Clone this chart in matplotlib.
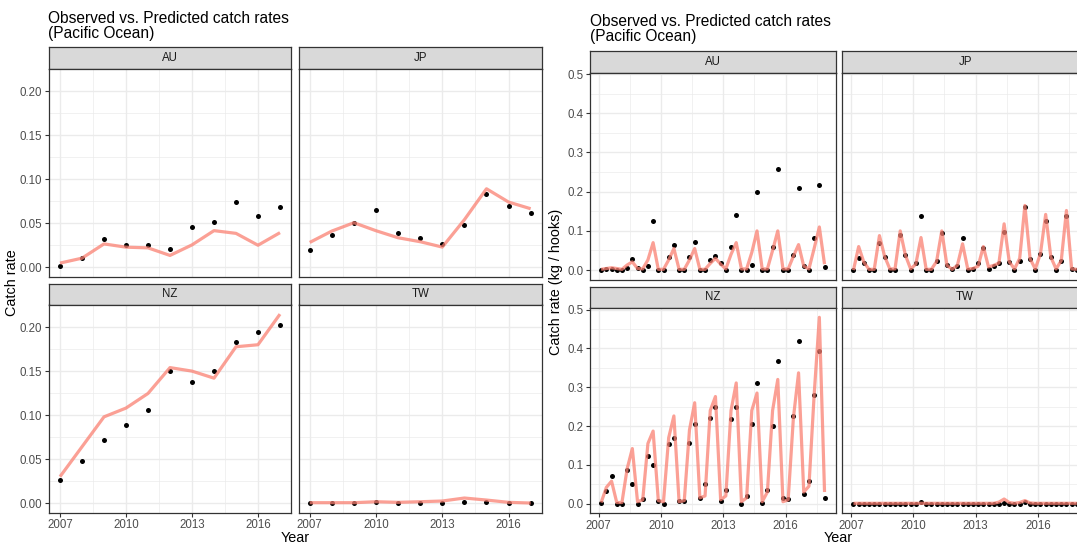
import numpy as np
import matplotlib
matplotlib.use("Agg")
import matplotlib.pyplot as plt

plt.rcParams['font.family'] = ['Liberation Sans', 'DejaVu Sans']

W, H = 1077, 549

# ---- annual series (left figure) ----
years = np.arange(2007, 2018)
au_obs = [0.0015, 0.0098, 0.0316, 0.0256, 0.0256, 0.0207, 0.0459, 0.0515, 0.0737, 0.0575, 0.0684]
au_pred = [0.0045, 0.0101, 0.0263, 0.0226, 0.0218, 0.0132, 0.0252, 0.0414, 0.0383, 0.0248, 0.0391]
jp_obs = [0.0197, 0.0364, 0.0500, 0.0652, 0.0386, 0.0326, 0.0261, 0.0477, 0.0833, 0.0697, 0.0610]
jp_pred = [0.0280, 0.0409, 0.0504, 0.0413, 0.0333, 0.0288, 0.0227, 0.0538, 0.0890, 0.0739, 0.0663]
nz_obs = [0.0265, 0.0473, 0.0712, 0.0886, 0.1053, 0.1500, 0.1375, 0.1496, 0.1830, 0.1950, 0.2027]
nz_pred = [0.0300, 0.0640, 0.0980, 0.1080, 0.1246, 0.1540, 0.1500, 0.1420, 0.1777, 0.1800, 0.2148]
tw_obs = [0.0000, 0.0000, 0.0000, 0.0010, 0.0004, 0.0004, 0.0004, 0.0010, 0.0015, 0.0004, 0.0004]
tw_pred = [0.0004, 0.0004, 0.0004, 0.0015, 0.0008, 0.0015, 0.0023, 0.0057, 0.0034, 0.0008, 0.0000]

# ---- quarterly series (right figure) ----
q_years = np.repeat(np.arange(2007, 2018), 4)
q_quarter = np.tile([1, 2, 3, 4], 11)
q_time = q_years + (q_quarter - 0.5) / 4

au_q_obs = [0.000, 0.002, 0.003, 0.000, 0.000, 0.006, 0.029, 0.006, 0.000, 0.011, 0.126,
            0.000, 0.000, 0.033, 0.065, 0.000, 0.000, 0.033, 0.072, 0.000, 0.000, 0.025,
            0.037, 0.017, 0.000, 0.058, 0.140, 0.000, 0.000, 0.013, 0.199, 0.000, 0.000,
            0.059, 0.257, 0.000, 0.000, 0.039, 0.210, 0.011, 0.000, 0.082, 0.216, 0.008]
au_q_pred = [0.002, 0.004, 0.006, 0.004, 0.002, 0.013, 0.021, 0.004, 0.003, 0.026, 0.070,
             0.002, 0.002, 0.026, 0.055, 0.002, 0.002, 0.026, 0.055, 0.002, 0.002, 0.017,
             0.030, 0.015, 0.003, 0.040, 0.070, 0.003, 0.003, 0.045, 0.100, 0.003, 0.003,
             0.050, 0.100, 0.003, 0.003, 0.035, 0.065, 0.010, 0.003, 0.055, 0.110, 0.015]
jp_q_obs = [0.000, 0.032, 0.019, 0.000, 0.000, 0.068, 0.033, 0.000, 0.000, 0.090, 0.038,
            0.000, 0.019, 0.137, 0.000, 0.000, 0.022, 0.095, 0.013, 0.002, 0.011, 0.083,
            0.000, 0.002, 0.019, 0.056, 0.002, 0.010, 0.017, 0.097, 0.021, 0.000, 0.024,
            0.162, 0.029, 0.000, 0.042, 0.124, 0.033, 0.000, 0.024, 0.139, 0.002, 0.000]
jp_q_pred = [0.000, 0.060, 0.020, 0.002, 0.002, 0.088, 0.035, 0.003, 0.003, 0.100, 0.038,
             0.003, 0.015, 0.083, 0.002, 0.002, 0.022, 0.100, 0.012, 0.002, 0.012, 0.067,
             0.003, 0.004, 0.010, 0.060, 0.008, 0.012, 0.018, 0.118, 0.021, 0.003, 0.030,
             0.165, 0.029, 0.003, 0.042, 0.142, 0.033, 0.003, 0.024, 0.152, 0.003, 0.002]
nz_q_obs = [0.003, 0.033, 0.071, 0.000, 0.000, 0.088, 0.051, 0.000, 0.011, 0.123, 0.100,
            0.007, 0.000, 0.154, 0.168, 0.006, 0.006, 0.157, 0.206, 0.014, 0.051, 0.220,
            0.250, 0.007, 0.036, 0.217, 0.250, 0.000, 0.019, 0.204, 0.312, 0.003, 0.036,
            0.201, 0.367, 0.014, 0.013, 0.227, 0.419, 0.024, 0.058, 0.279, 0.393, 0.015]
nz_q_pred = [0.003, 0.042, 0.058, 0.003, 0.003, 0.090, 0.142, 0.005, 0.010, 0.155, 0.187,
             0.008, 0.005, 0.170, 0.226, 0.005, 0.008, 0.190, 0.260, 0.015, 0.020, 0.240,
             0.276, 0.010, 0.020, 0.240, 0.311, 0.005, 0.015, 0.240, 0.285, 0.005, 0.030,
             0.240, 0.320, 0.005, 0.010, 0.220, 0.337, 0.030, 0.045, 0.280, 0.480, 0.030]
tw_q_obs = [0.000] * 13 + [0.004] + [0.000] * 15 + [0.003] + [0.000] * 3 + [0.004] + [0.000] * 10
tw_q_pred = ([0.001] * 28 + [0.004, 0.012, 0.003, 0.001, 0.003, 0.008, 0.002] + [0.001] * 9)

LINE = '#FA8072'
BORDER = '#333333'
GRID = '#EBEBEB'


def frac(x0, y0, x1, y1):
    return [x0 / W, 1 - y1 / H, (x1 - x0) / W, (y1 - y0) / H]


def facet(fig, box, strip_h, label, t, obs, pred, xlim, ylim, ymaj, ymin, yfmt,
          show_x, show_y):
    x0, y0, x1, y1 = box
    st = fig.add_axes(frac(x0, y0 - strip_h, x1, y0))
    st.set_facecolor('#D9D9D9')
    st.set_xticks([])
    st.set_yticks([])
    for s in st.spines.values():
        s.set_color(BORDER)
        s.set_linewidth(0.9)
    st.text(0.5, 0.5, label, ha='center', va='center', fontsize=8.3,
            color='#1A1A1A', transform=st.transAxes)

    ax = fig.add_axes(frac(x0, y0, x1, y1))
    ax.set_xlim(xlim)
    ax.set_ylim(ylim)
    ax.set_xticks([2007, 2010, 2013, 2016])
    ax.set_xticks([2008.5, 2011.5, 2014.5, 2017.5], minor=True)
    ax.set_yticks(ymaj)
    ax.set_yticks(ymin, minor=True)
    ax.set_yticklabels([yfmt.format(v) for v in ymaj])
    ax.grid(which='major', color=GRID, lw=1.0)
    ax.grid(which='minor', color=GRID, lw=0.5)
    ax.set_axisbelow(True)
    for s in ax.spines.values():
        s.set_color(BORDER)
        s.set_linewidth(0.9)
    ax.tick_params(which='major', direction='out', length=3.2, width=0.8,
                   color=BORDER, labelcolor='#4D4D4D', labelsize=8.3, pad=1.5)
    ax.tick_params(which='minor', length=0)
    ax.tick_params(axis='x', bottom=show_x, labelbottom=show_x)
    ax.tick_params(axis='y', left=show_y, labelleft=show_y)

    ax.plot(t, obs, 'o', color='black', ms=3.6, mec='none', zorder=3)
    ax.plot(t, pred, '-', color=LINE, lw=2.3, alpha=0.75, zorder=4,
            solid_joinstyle='round', solid_capstyle='butt')
    return ax


fig = plt.figure(figsize=(W / 100, H / 100), dpi=100)
fig.patch.set_facecolor('white')

# left figure: annual catch rates
lx = (2006.5, 2017.5)
ly = (-0.01075, 0.22575)
lmaj = [0, 0.05, 0.10, 0.15, 0.20]
lmin = [0.025, 0.075, 0.125, 0.175, 0.225]
facet(fig, (49, 68.5, 291, 276.5), 21, 'AU', years, au_obs, au_pred, lx, ly, lmaj, lmin, '{:.2f}', False, True)
facet(fig, (298.7, 68.5, 541.7, 276.5), 21, 'JP', years, jp_obs, jp_pred, lx, ly, lmaj, lmin, '{:.2f}', False, False)
facet(fig, (49, 304.5, 291, 512.5), 21, 'NZ', years, nz_obs, nz_pred, lx, ly, lmaj, lmin, '{:.2f}', True, True)
facet(fig, (298.7, 304.5, 541.7, 512.5), 21, 'TW', years, tw_obs, tw_pred, lx, ly, lmaj, lmin, '{:.2f}', True, False)

fig.text(48 / W, 1 - 26 / H, 'Observed vs. Predicted catch rates\n(Pacific Ocean)',
         ha='left', va='center', fontsize=11.2, color='black', linespacing=1.0)
fig.text(12 / W, 1 - 283 / H, 'Catch rate', rotation=90, ha='center', va='center',
         fontsize=10.4, color='black')
fig.text(295 / W, 1 - 538 / H, 'Year', ha='center', va='center', fontsize=10.4, color='black')

# right figure: quarterly catch rates
rx = (2006.5875, 2018.4125)
ry = (-0.024, 0.504)
rmaj = [0, 0.1, 0.2, 0.3, 0.4, 0.5]
rmin = [0.05, 0.15, 0.25, 0.35, 0.45]
facet(fig, (590, 72.5, 835.7, 279.5), 21.5, 'AU', q_time, au_q_obs, au_q_pred, rx, ry, rmaj, rmin, '{:.1f}', False, True)
facet(fig, (842.3, 72.5, 1088, 279.5), 21.5, 'JP', q_time, jp_q_obs, jp_q_pred, rx, ry, rmaj, rmin, '{:.1f}', False, False)
facet(fig, (590, 308, 835.7, 513), 21.5, 'NZ', q_time, nz_q_obs, nz_q_pred, rx, ry, rmaj, rmin, '{:.1f}', True, True)
facet(fig, (842.3, 308, 1088, 513), 21.5, 'TW', q_time, tw_q_obs, tw_q_pred, rx, ry, rmaj, rmin, '{:.1f}', True, False)

fig.text(590 / W, 1 - 29.5 / H, 'Observed vs. Predicted catch rates\n(Pacific Ocean)',
         ha='left', va='center', fontsize=11.2, color='black', linespacing=1.0)
fig.text(556 / W, 1 - 282 / H, 'Catch rate (kg / hooks)', rotation=90, ha='center',
         va='center', fontsize=10.4, color='black')
fig.text(838 / W, 1 - 538 / H, 'Year', ha='center', va='center', fontsize=10.4, color='black')

fig.savefig('out.png', dpi=100)
